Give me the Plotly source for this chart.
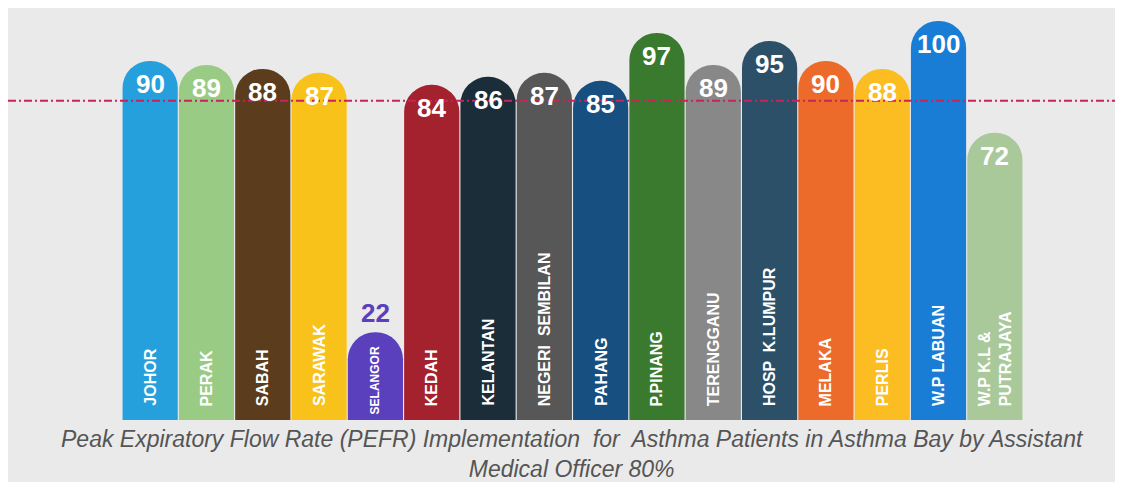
import plotly.graph_objects as go

# PEFR implementation by state (%), target line 80%
states = ["JOHOR", "PERAK", "SABAH", "SARAWAK", "SELANGOR", "KEDAH", "KELANTAN",
          "NEGERI  SEMBILAN", "PAHANG", "P.PINANG", "TERENGGANU", "HOSP  K.LUMPUR",
          "MELAKA", "PERLIS", "W.P LABUAN", "W.P K.L &<br>PUTRAJAYA"]
values = [90, 89, 88, 87, 22, 84, 86, 87, 85, 97, 89, 95, 90, 88, 100, 72]
colors = ["#25a0dc", "#9acb84", "#5b3c1c", "#f8c21a", "#5a40bc", "#a3222d",
          "#1b2d38", "#575757", "#164f80", "#3a7a2f", "#888888", "#2b5068",
          "#ec6b2b", "#fbbd22", "#1a7dd5", "#a9c99b"]
target = 80

W, H = 1115, 474
L, R, T, B = 114, 100, 13, 62
plot_w = W - L - R

fig = go.Figure()
fig.add_trace(go.Bar(
    x=states, y=values,
    marker=dict(color=colors, line=dict(width=0)),
    hoverinfo="x+y",
))

# value labels near the rounded tops
for s, v, c in zip(states, values, colors):
    if v < 40:
        fig.add_annotation(x=s, y=v, yanchor="bottom", yshift=2, showarrow=False,
                           text="<b>%d</b>" % v,
                           font=dict(size=26, color=c, family="Liberation Sans"))
    else:
        fig.add_annotation(x=s, y=v, yanchor="top", yshift=-6, showarrow=False,
                           text="<b>%d</b>" % v,
                           font=dict(size=26, color="white", family="Liberation Sans"))
    # rotated state names at the bottom of the bars
    fig.add_annotation(x=s, y=0, yanchor="bottom", yshift=12 if v >= 40 else 4,
                       showarrow=False, textangle=-90, align="left",
                       text="<b>%s</b>" % s,
                       font=dict(size=16 if v >= 40 else 12, color="white",
                                 family="Liberation Sans"))

# target line (dash-dot) across the whole width
fig.add_shape(type="line", xref="paper", yref="y", x0=-L / plot_w, x1=(W - L - 4) / plot_w,
              y0=target, y1=target, layer="above",
              line=dict(color="#c8235a", width=2, dash="8px,3px,2px,3px"))

fig.add_annotation(
    xref="paper", yref="paper", x=0.5, y=0, yanchor="top", yshift=-4,
    showarrow=False, align="center",
    text="<i>Peak Expiratory Flow Rate (PEFR) Implementation  for  Asthma Patients in Asthma Bay by Assistant<br>Medical Officer 80%</i>",
    font=dict(size=23, color="#555555", family="Liberation Sans Narrow, Liberation Sans"),
)

fig.update_layout(
    width=W, height=H,
    margin=dict(l=L, r=R, t=T, b=B),
    paper_bgcolor="#eaeaea", plot_bgcolor="#eaeaea",
    bargap=0.02, barcornerradius="50%",
    showlegend=False,
    xaxis=dict(showticklabels=False, showgrid=False, zeroline=False, showline=False),
    yaxis=dict(range=[0, 100], visible=False),
)

fig.write_html("out.html")
